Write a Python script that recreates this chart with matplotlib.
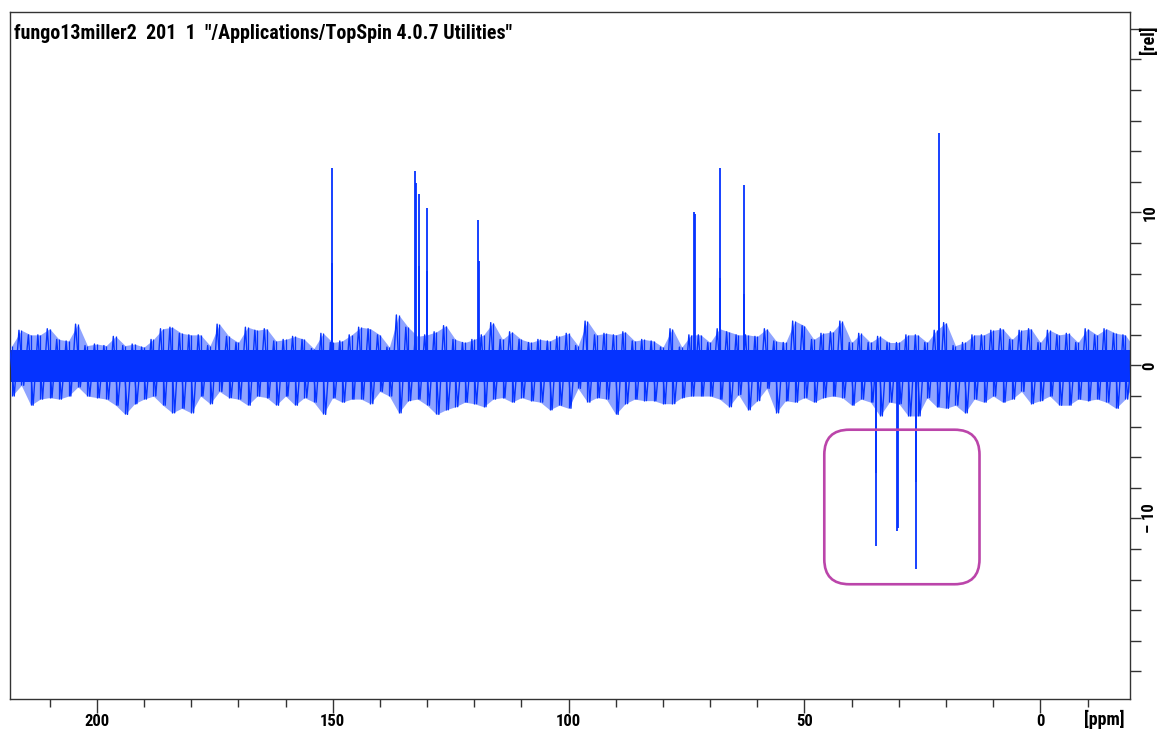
import numpy as np
import matplotlib
matplotlib.use("Agg")
import matplotlib.pyplot as plt
from matplotlib.patches import FancyBboxPatch
from matplotlib import font_manager

# ---------------- data ----------------
title = 'fungo13miller2  201  1  "/Applications/TopSpin 4.0.7 Utilities"'

# signal peaks: chemical shift (ppm) and intensity (rel)
peak_ppm = [150.2, 150.1, 132.5, 132.3, 131.8, 131.7, 130.1, 130.0,
            119.1, 119.0, 73.4, 73.2, 68.0, 67.9, 62.9, 62.8, 21.4, 21.5,
            34.9, 34.8, 30.3, 30.2, 26.3, 26.4]
peak_int = [12.9, 6.7, 12.7, 11.9, 11.2, 6.5, 10.3, 6.2,
            9.5, 6.8, 10.0, 9.9, 12.9, 5.7, 11.8, 4.7, 15.2, 8.2,
            -11.8, -7.0, -10.8, -10.6, -13.3, -7.6]

# baseline noise: extreme values per 2 ppm bin (218 ppm down to -20 ppm)
noise_ppm = np.arange(218, -21, -2)
noise_hi = [1.3, 2.3, 2.0, 2.0, 2.4, 1.7, 1.6, 2.7, 1.3, 1.4, 1.3, 1.9, 1.3, 1.4, 1.2, 1.7, 2.4, 2.5, 2.1, 2.0,
            2.0, 1.3, 2.7, 1.9, 1.5, 2.5, 2.3, 2.4, 1.6, 1.7, 1.9, 1.7, 1.1, 2.1, 1.5, 1.6, 2.0, 2.5, 2.4, 2.0,
            1.2, 3.3, 2.5, 1.9, 2.0, 2.2, 2.6, 1.7, 1.5, 1.7, 2.0, 2.8, 1.7, 2.2, 1.7, 1.5, 1.7, 1.6, 1.9, 2.1,
            1.3, 2.9, 2.0, 2.1, 2.0, 2.2, 1.6, 1.7, 1.6, 1.2, 2.4, 1.2, 2.0, 2.0, 1.5, 2.4, 2.2, 2.0, 2.0, 1.9,
            2.4, 1.6, 1.5, 2.9, 2.6, 1.7, 2.1, 2.2, 2.9, 1.5, 2.1, 1.5, 1.9, 1.5, 1.5, 2.0, 2.0, 1.5, 2.3, 2.8,
            1.3, 1.5, 2.0, 2.0, 2.3, 2.4, 1.7, 2.3, 2.4, 1.5, 2.3, 2.0, 2.1, 1.5, 2.4, 2.0, 2.4, 2.1, 2.0, 1.1]
noise_lo = [-2.0, -1.3, -2.6, -2.2, -2.1, -2.2, -2.0, -1.4, -2.0, -2.1, -2.2, -2.6, -3.2, -2.5, -2.2, -2.0, -2.6, -3.1, -2.8, -3.1,
            -2.0, -2.5, -1.7, -2.1, -2.2, -2.6, -2.0, -2.1, -2.6, -2.0, -2.6, -2.1, -2.4, -3.2, -2.1, -2.4, -2.2, -2.2, -2.5, -1.7,
            -2.0, -3.1, -2.3, -2.2, -2.6, -3.2, -2.9, -2.7, -2.4, -2.5, -2.7, -2.2, -2.1, -2.4, -2.1, -2.3, -2.4, -2.9, -2.6, -2.8,
            -1.5, -2.4, -2.1, -2.2, -3.2, -2.5, -2.2, -2.3, -2.3, -2.5, -2.5, -2.1, -2.0, -2.0, -2.0, -2.2, -2.7, -1.9, -2.9, -2.3,
            -1.5, -3.1, -2.3, -2.4, -2.1, -2.4, -2.1, -2.0, -2.1, -2.6, -2.2, -2.4, -3.3, -2.4, -2.5, -3.3, -3.3, -2.1, -2.7, -2.8,
            -2.6, -3.1, -2.2, -2.4, -2.0, -2.4, -2.2, -1.7, -2.5, -2.3, -2.0, -2.6, -2.6, -2.2, -2.3, -2.2, -2.4, -2.8, -2.2, -1.1]
noise_core = (-1.1, 1.0)   # dense part of the noise band

# highlighted region (ppm range, intensity range)
box_ppm = (12.9, 45.8)
box_int = (-14.3, -4.2)

x_major = [200, 150, 100, 50, 0]
y_major = [10, 0, -10]
y_major_labels = ['10', '0', '\u2013 10']

# ---------------- drawing ----------------
BLUE = '#0533ff'
available = {f.name for f in font_manager.fontManager.ttflist}
FONT = 'DejaVu Sans'
for cand in ['Liberation Sans Narrow', 'Roboto Condensed', 'Open Sans Condensed',
             'Liberation Sans']:
    if cand in available:
        FONT = cand
        break
plt.rcParams['font.family'] = [FONT, 'DejaVu Sans']

W, H = 1158, 731
fig = plt.figure(figsize=(W / 100, H / 100), dpi=100)
ax = fig.add_axes([10 / W, 1 - 699 / H, 1120 / W, 687 / H])

ax.set_xlim(218.4, -19.0)
ax.set_ylim(-21.8, 23.1)

# noise band: envelope, dense core, and spikes
ax.fill_between(noise_ppm, noise_lo, noise_hi, color=BLUE, alpha=0.45, lw=0, zorder=2)
ax.fill_between([noise_ppm[0] + 1, noise_ppm[-1] - 1], noise_core[0], noise_core[1],
                color=BLUE, lw=0, zorder=2)
zx, zy = [], []
for p, h, l in zip(noise_ppm, noise_hi, noise_lo):
    zx += [p + 0.5, p - 0.5]
    zy += [h, l]
ax.plot(zx, zy, color=BLUE, lw=1.0, zorder=3)
ax.vlines(noise_ppm, noise_lo, noise_hi, color=BLUE, lw=0.9, zorder=3)

# peaks
ax.vlines(peak_ppm, 0, peak_int, color=BLUE, lw=1.3, zorder=4)

# highlight box
bw = box_ppm[1] - box_ppm[0]
bh = box_int[1] - box_int[0]
px_per_ppm = 4.715
px_per_int = 15.3
r_ppm = 25 / px_per_ppm
box = FancyBboxPatch((box_ppm[0], box_int[0]), bw, bh,
                     boxstyle=f"round,pad=0,rounding_size={r_ppm}",
                     mutation_aspect=px_per_ppm / px_per_int,
                     fc='none', ec='#bb45aa', lw=1.9, zorder=5)
ax.add_patch(box)

# axes styling
for s in ax.spines.values():
    s.set_color('#333333')
    s.set_linewidth(1.0)

ax.yaxis.tick_right()
ax.set_xticks(x_major)
ax.set_xticklabels([str(v) for v in x_major], fontsize=12, fontweight='bold')
ax.set_xticks(np.arange(210, -20, -10), minor=True)
ax.set_yticks(y_major)
ax.set_yticklabels(y_major_labels, fontsize=12, fontweight='bold', rotation=90, va='center')
ax.set_yticks(np.arange(-20, 23, 2), minor=True)
ax.tick_params(axis='x', which='major', length=10, width=1, color='#333333', pad=1)
ax.tick_params(axis='x', which='minor', length=6, width=1, color='#333333')
ax.tick_params(axis='y', which='both', length=8, width=1, color='#333333', pad=1)

t = ax.text(0.004, 0.983, title, transform=ax.transAxes, ha='left', va='top',
            fontsize=12, fontweight='bold', color='black')
# fit title width to the reference (~496 px)
fig.canvas.draw()
wpx = t.get_window_extent().width
t.set_fontsize(12 * 496 / wpx)

fig.text(1149 / W, 1 - 40 / H, '[rel]', rotation=90, ha='center', va='center',
         fontsize=13, fontweight='bold')
fig.text(1104 / W, 1 - 719 / H, '[ppm]', ha='center', va='center',
         fontsize=13, fontweight='bold')

fig.savefig('out.png', dpi=100)
